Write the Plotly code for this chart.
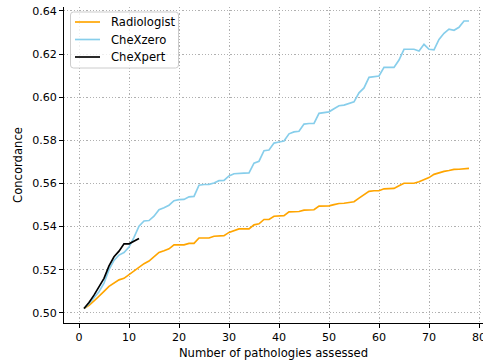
import plotly.graph_objects as go

x_all = list(range(1, 79))
radiologist = [
    0.502, 0.5035, 0.5055, 0.508, 0.510, 0.5123, 0.5138, 0.5153, 0.516, 0.5178,
    0.5195, 0.5212, 0.5228, 0.524, 0.5262, 0.528, 0.5288, 0.5297, 0.5315, 0.5315,
    0.5315, 0.5322, 0.5322, 0.5347, 0.5347, 0.5347, 0.5355, 0.5358, 0.5358, 0.5373,
    0.5382, 0.5389, 0.5389, 0.5389, 0.5408, 0.5413, 0.5433, 0.5433, 0.5448, 0.545,
    0.5451, 0.5468, 0.547, 0.547, 0.5476, 0.5478, 0.5478, 0.5495, 0.5496, 0.5496,
    0.5502, 0.5507, 0.5508, 0.5512, 0.5515, 0.5532, 0.5548, 0.5563, 0.5566, 0.5566,
    0.5575, 0.5576, 0.5577, 0.5589, 0.5601, 0.5601, 0.5601, 0.5608, 0.5617, 0.5627,
    0.5642, 0.565, 0.5656, 0.566, 0.5665, 0.5666, 0.5669, 0.567,
]
chexzero = [
    0.502, 0.5042, 0.507, 0.5098, 0.5138, 0.520, 0.5243, 0.5268, 0.528, 0.5305,
    0.535, 0.5402, 0.5426, 0.5428, 0.5448, 0.5478, 0.5487, 0.5499, 0.552, 0.5525,
    0.5526, 0.5538, 0.554, 0.5592, 0.5595, 0.5596, 0.5602, 0.5613, 0.5614, 0.5635,
    0.5645, 0.5648, 0.5648, 0.5649, 0.5694, 0.5703, 0.5752, 0.5755, 0.5787, 0.5792,
    0.5797, 0.583, 0.5839, 0.5842, 0.5875, 0.5878, 0.5878, 0.5925, 0.593, 0.5932,
    0.5946, 0.596, 0.5963, 0.597, 0.5978, 0.602, 0.6043, 0.6092, 0.6095, 0.6098,
    0.6138, 0.6138, 0.6138, 0.6172, 0.6222, 0.6222, 0.6222, 0.6214, 0.6245, 0.6222,
    0.6219, 0.6268, 0.6296, 0.6315, 0.631, 0.6324, 0.6353, 0.6353,
]
x_chexpert = list(range(1, 13))
chexpert = [0.502, 0.5048, 0.5082, 0.5122, 0.516, 0.5218, 0.526, 0.5286, 0.532, 0.532, 0.5332, 0.5345]

series_names = ["Radiologist", "CheXzero", "CheXpert"]
series_colors = ["#FFA500", "#87CEEB", "black"]

x_ticks = [0, 10, 20, 30, 40, 50, 60, 70, 80]
y_ticks = [0.50, 0.52, 0.54, 0.56, 0.58, 0.60, 0.62, 0.64]

FONT = "DejaVu Sans"
FS_TICK = 11.1
FS = 11.6
LW = 1.67

W, H = 483, 363
ML, MR, MT, MB = 64, 0, 7, 40
PW, PH = W - ML - MR, H - MT - MB


def px_to_paper(px, py):
    return (px - ML) / PW, (H - MB - py) / PH


fig = go.Figure()
for xs, ys, name, color in [(x_all, radiologist, series_names[0], series_colors[0]),
                            (x_all, chexzero, series_names[1], series_colors[1]),
                            (x_chexpert, chexpert, series_names[2], series_colors[2])]:
    fig.add_trace(go.Scatter(x=xs, y=ys, mode="lines", name=name,
                             line=dict(color=color, width=LW), showlegend=False))

# legend drawn as a box with rounded corners, sample lines and text
bx0, by0, bx1, by1, r = 70.5, 12, 178.5, 68, 3


def P(px, py):
    a, b = px_to_paper(px, py)
    return f"{a:.5f},{b:.5f}"


path = (f"M {P(bx0 + r, by0)} L {P(bx1 - r, by0)} Q {P(bx1, by0)} {P(bx1, by0 + r)} "
        f"L {P(bx1, by1 - r)} Q {P(bx1, by1)} {P(bx1 - r, by1)} "
        f"L {P(bx0 + r, by1)} Q {P(bx0, by1)} {P(bx0, by1 - r)} "
        f"L {P(bx0, by0 + r)} Q {P(bx0, by0)} {P(bx0 + r, by0)} Z")
shapes = [dict(type="path", path=path, xref="paper", yref="paper", layer="above",
               fillcolor="rgba(255,255,255,0.8)", line=dict(color="#cccccc", width=1))]
annotations = []
row_y = [22, 39.5, 57]
for name, color, ry in zip(series_names, series_colors, row_y):
    x0p, yp = px_to_paper(75, ry)
    x1p, _ = px_to_paper(100, ry)
    shapes.append(dict(type="line", xref="paper", yref="paper", layer="above",
                       x0=x0p, x1=x1p, y0=yp, y1=yp, line=dict(color=color, width=LW)))
    tx, _ = px_to_paper(109, ry)
    annotations.append(dict(text=name, xref="paper", yref="paper", x=tx, y=yp,
                            xanchor="left", yanchor="middle", showarrow=False,
                            font=dict(family=FONT, size=FS, color="black")))

axis_common = dict(
    showline=True, linecolor="black", linewidth=0.9,
    ticks="outside", ticklen=4, tickwidth=0.9, tickcolor="black",
    showgrid=True, gridcolor="#b0b0b0", griddash="1.2px,2px", gridwidth=0.9,
    zeroline=False, tickfont=dict(family=FONT, size=FS_TICK, color="black"),
    automargin=False, ticklabeloverflow="allow",
)

fig.update_layout(
    width=W, height=H,
    margin=dict(l=ML, r=MR, t=MT, b=MB),
    paper_bgcolor="white", plot_bgcolor="white",
    font=dict(family=FONT, size=FS, color="black"),
    showlegend=False,
    shapes=shapes, annotations=annotations,
    xaxis=dict(range=[-3, 80.8], tickvals=x_ticks,
               title=dict(text="Number of pathologies assessed", standoff=5,
                          font=dict(family=FONT, size=FS, color="black")),
               **axis_common),
    yaxis=dict(range=[0.4953, 0.6418], tickvals=y_ticks, tickformat=".2f",
               title=dict(text="Concordance", standoff=7,
                          font=dict(family=FONT, size=FS, color="black")),
               **axis_common),
)

fig.write_html("out.html")
